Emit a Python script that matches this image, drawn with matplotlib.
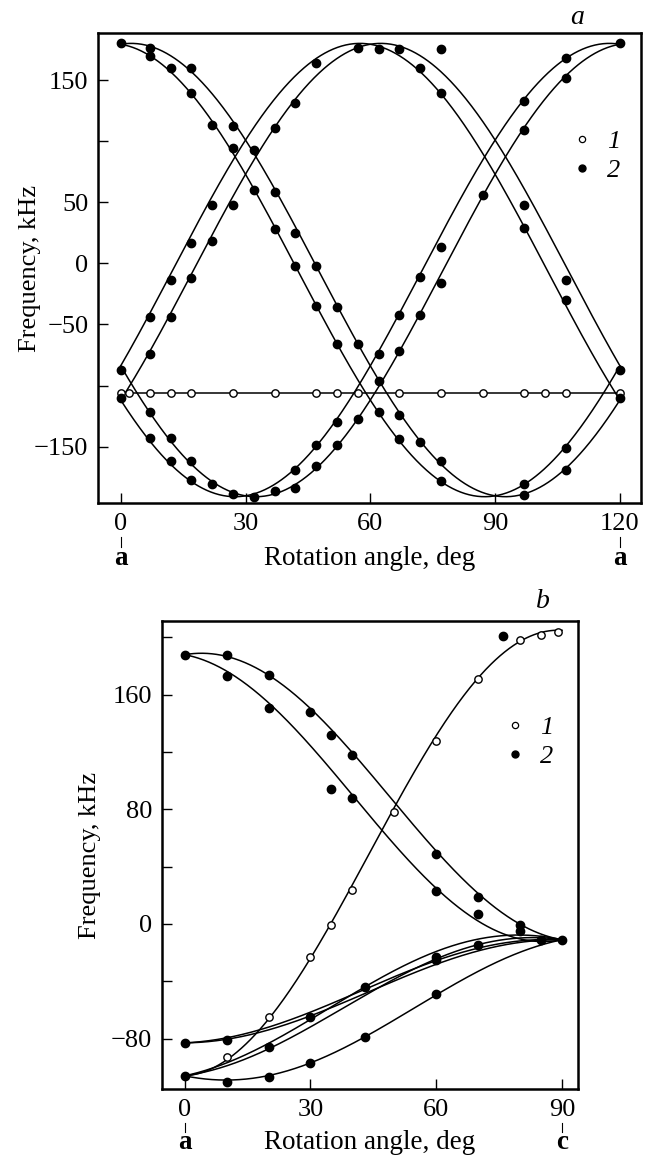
import numpy as np
import matplotlib
matplotlib.use("Agg")
import matplotlib.pyplot as plt
from matplotlib.lines import Line2D
from matplotlib.ticker import FixedLocator, FixedFormatter

plt.rcParams['font.family'] = ['Liberation Serif', 'DejaVu Serif']
plt.rcParams['axes.unicode_minus'] = True

# ---------------- Panel a data ----------------
a_open_x = [0, 2, 7, 12, 17, 27, 37, 47, 52, 57, 67, 77, 87, 97, 102, 107, 120]
a_open_y = [-106, -106, -106, -106, -106, -106, -106, -106, -106, -106,
            -106, -106, -106, -106, -106, -106, -106]

a_fill_x = [0, 0, 0,
            7, 7, 7, 7, 7, 7,
            12, 12, 12, 12, 12,
            17, 17, 17, 17, 17, 17,
            22, 22, 22, 22,
            27, 27, 27, 27,
            32, 32, 32,
            37, 37, 37, 37,
            42, 42, 42, 42, 42,
            47, 47, 47, 47, 47,
            52, 52, 52, 52,
            57, 57, 57,
            62, 62, 62, 62,
            67, 67, 67, 67, 67,
            72, 72, 72, 72,
            77, 77, 77, 77, 77, 77,
            87,
            97, 97, 97, 97, 97, 97,
            107, 107, 107, 107, 107, 107,
            120, 120, 120]
a_fill_y = [180, -87, -110,
            176, 170, -44, -74, -122, -143,
            160, -14, -44, -143, -162,
            160, 139, 17, -12, -162, -177,
            113, 48, 18, -181,
            112, 94, 48, -189,
            93, 60, -191,
            58, 28, 111, -186,
            25, -2, 131, -184, -169,
            -2, -35, 164, -166, -149,
            -36, -66, -149, -130,
            -66, 176, -127,
            175, -74, -96, -122,
            175, -42, -72, -124, -144,
            160, -11, -42, -146,
            175, 139, 13, -16, -162, -178,
            56,
            133, 109, 48, 29, -181, -190,
            168, 152, -14, -30, -151, -169,
            180, -87, -110]

# fitted angular dependences (offset + amplitude*cos 2(theta - phase))
a_fit_offset = -5.5
a_fit_amp = 185.5
a_fit_phase = [-2.5, 2.5, 57.5, 62.5, 117.5, 122.5]
a_line1_level = -106

a_xticks = [0, 30, 60, 90, 120]
a_yticks = [-150, -100, -50, 0, 50, 100, 150]
a_ylabels = ['\u2212150', '', '\u221250', '0', '50', '', '150']

# ---------------- Panel b data ----------------
b_open_x = [10, 20, 30, 35, 40, 50, 60, 70, 80, 85, 89]
b_open_y = [-93, -65, -23, -1, 24, 78, 128, 171, 198, 202, 204]

b_fill_x = [0, 0, 0,
            10, 10, 10, 10,
            20, 20, 20, 20,
            30, 30, 30,
            35, 35,
            40, 40,
            43, 43,
            60, 60, 60, 60, 60,
            70, 70, 70,
            76,
            80, 80,
            85,
            90]
b_fill_y = [188, -83, -106,
            188, 173, -81, -110,
            174, 151, -86, -107,
            148, -65, -97,
            132, 94,
            118, 88,
            -44, -79,
            49, 23, -23, -25, -49,
            19, 7, -15,
            201,
            -1, -5,
            -11,
            -11]

# fitted curves: alpha + beta*cos(2 theta) + gamma*sin(2 theta)
b_fit_alpha = [88.5, 88.5, -47.0, -47.0, -58.5, -58.5, -58.5]
b_fit_beta = [99.5, 99.5, -36.0, -36.0, -47.5, -47.5, -47.5]
b_fit_gamma = [14.0, -16.0, 4.0, 1.0, 18.0, 12.0, -17.0]
b_open_alpha, b_open_beta, b_open_gamma = 49.5, -155.5, 5.0

b_xticks = [0, 30, 60, 90]
b_yticks = [-80, -40, 0, 40, 80, 120, 160, 200]
b_ylabels = ['\u221280', '', '0', '', '80', '', '160', '']

FS = 19
W, H = 649, 1156
fig = plt.figure(figsize=(W / 100, H / 100), dpi=100)

ax1 = fig.add_axes([98 / W, 1 - 503.3 / H, (641 - 98) / W, (503.3 - 33) / H])
ax2 = fig.add_axes([162 / W, 1 - 1089.3 / H, (578 - 162) / W, (1089.3 - 621) / H])

lw = 1.1
# panel a curves
th = np.linspace(0, 120, 600)
for ph in a_fit_phase:
    ax1.plot(th, a_fit_offset + a_fit_amp * np.cos(np.radians(2 * (th - ph))),
             color='black', lw=lw, zorder=2)
ax1.plot([0, 120], [a_line1_level, a_line1_level], color='black', lw=lw, zorder=2)
ax1.plot(a_open_x, a_open_y, ls='none', marker='o', ms=5.3, mfc='white',
         mec='black', mew=1.0, zorder=3)
ax1.plot(a_fill_x, a_fill_y, ls='none', marker='o', ms=6, mfc='black',
         mec='black', zorder=4)

# panel b curves
tb = np.linspace(0, 90, 500)
for al, be, ga in zip(b_fit_alpha, b_fit_beta, b_fit_gamma):
    ax2.plot(tb, al + be * np.cos(np.radians(2 * tb)) + ga * np.sin(np.radians(2 * tb)),
             color='black', lw=lw, zorder=2)
ax2.plot(tb, b_open_alpha + b_open_beta * np.cos(np.radians(2 * tb))
         + b_open_gamma * np.sin(np.radians(2 * tb)), color='black', lw=lw, zorder=2)
ax2.plot(b_open_x, b_open_y, ls='none', marker='o', ms=5.3, mfc='white',
         mec='black', mew=1.0, zorder=3)
ax2.plot(b_fill_x, b_fill_y, ls='none', marker='o', ms=6, mfc='black',
         mec='black', zorder=4)

ax1.set_xlim(-5.46, 125.07)
ax1.set_ylim(-196.4, 188.5)
ax2.set_xlim(-5.41, 93.8)
ax2.set_ylim(-115.4, 211.5)

for ax, xt, yt, yl in [(ax1, a_xticks, a_yticks, a_ylabels),
                       (ax2, b_xticks, b_yticks, b_ylabels)]:
    ax.xaxis.set_major_locator(FixedLocator(xt))
    ax.xaxis.set_major_formatter(FixedFormatter([str(v) for v in xt]))
    ax.yaxis.set_major_locator(FixedLocator(yt))
    ax.yaxis.set_major_formatter(FixedFormatter(yl))
    ax.tick_params(direction='in', length=7.5, width=1.0, labelsize=FS, pad=7)
    for s in ax.spines.values():
        s.set_linewidth(1.8)
    ax.set_xlabel('Rotation angle, deg', fontsize=FS + 0.5)
    ax.set_ylabel('Frequency, kHz', fontsize=FS)

ax1.xaxis.set_label_coords(0.5, -0.132)
ax1.xaxis.label.set_verticalalignment('baseline')
ax1.yaxis.set_label_coords(-0.105, 0.5)
ax2.xaxis.set_label_coords(0.5, -0.127)
ax2.xaxis.label.set_verticalalignment('baseline')
ax2.yaxis.set_label_coords(-0.147, 0.5)

# crystal axis markers under the end ticks
for ax, marks, yb in [(ax1, [(0, 'a'), (120, 'a')], -0.132),
                      (ax2, [(0, 'a'), (90, 'c')], -0.127)]:
    tr = ax.get_xaxis_transform()
    for xv, lab in marks:
        ax.plot([xv, xv], [-0.071, -0.092], transform=tr, color='black',
                lw=0.8, clip_on=False)
        ax.text(xv, yb, lab, transform=tr, ha='center', va='baseline',
                fontsize=FS + 0.5, fontweight='bold')

# panel letters
ax1.text(0.882, 1.032, 'a', transform=ax1.transAxes, ha='center', va='center',
         fontsize=FS + 1, style='italic')
ax2.text(0.916, 1.041, 'b', transform=ax2.transAxes, ha='center', va='center',
         fontsize=FS + 1, style='italic')

# legends
handles = [Line2D([], [], ls='none', marker='o', ms=4.5, mfc='white', mec='black', mew=0.9),
           Line2D([], [], ls='none', marker='o', ms=5, mfc='black', mec='black')]
for ax, anchor in [(ax1, (0.867, 0.794)), (ax2, (0.817, 0.798))]:
    ax.legend(handles, ['1', '2'], loc='upper left', bbox_to_anchor=anchor,
              frameon=False, borderpad=0, borderaxespad=0, handlelength=1.0,
              handletextpad=0.45, labelspacing=0.2,
              prop={'family': 'Liberation Serif', 'style': 'italic', 'size': FS})

fig.savefig('out.png', dpi=100)
